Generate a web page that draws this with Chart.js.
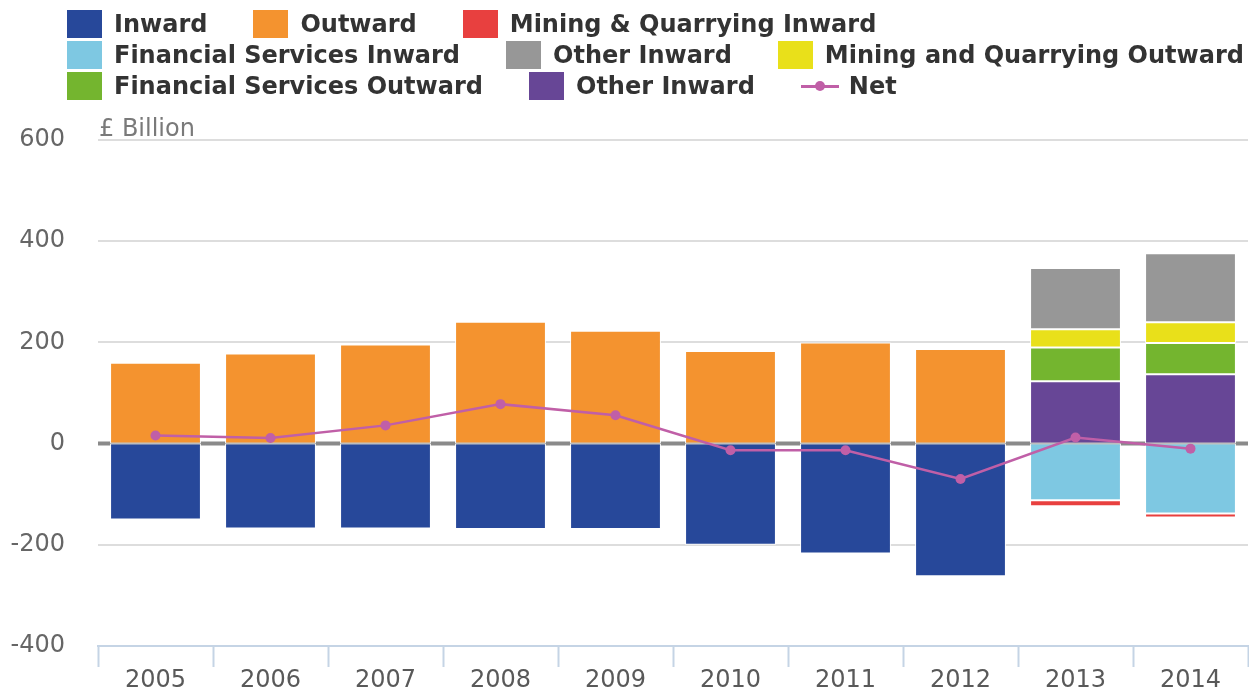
<!DOCTYPE html>
<html>
<head>
<meta charset="utf-8">
<script src="https://cdn.jsdelivr.net/npm/chart.js@4.4.1/dist/chart.umd.min.js"></script>
<style>
  html, body { margin: 0; padding: 0; background: #fff; overflow: hidden; }
  #wrap { position: relative; width: 1253px; height: 690px; }
  #legend { position: absolute; left: 67px; top: 8px; font: bold 24px "DejaVu Sans", sans-serif; color: #333; }
  .row { display: flex; height: 31.3px; align-items: center; }
  .item { display: flex; align-items: center; margin-right: 46px; white-space: nowrap; }
  .box { width: 35px; height: 28px; margin-right: 12px; }
  .line { width: 38px; height: 3px; position: relative; margin-right: 10px; }
  .line span { position: absolute; left: 14px; top: -3.5px; width: 10px; height: 10px; border-radius: 50%; }
</style>
</head>
<body>
<div id="wrap">
  <canvas id="fdiChart"></canvas>
  <div id="legend"></div>
</div>
<script>
const years = ['2005', '2006', '2007', '2008', '2009', '2010', '2011', '2012', '2013', '2014'];

// £ billion
const inward = [-150, -168, -168, -169, -169, -200, -217, -262, null, null];
const outward = [160, 178, 196, 241, 223, 183, 200, 187, null, null];
const finServInward = [null, null, null, null, null, null, null, null, -112, -138];
const miningInward = [null, null, null, null, null, null, null, null, -12, -8];
const otherPurple = [null, null, null, null, null, null, null, null, 123, 137];
const finServOutward = [null, null, null, null, null, null, null, null, 67, 62];
const miningOutward = [null, null, null, null, null, null, null, null, 36, 41];
const otherGrey = [null, null, null, null, null, null, null, null, 121, 136];
const net = [16, 11, 36, 78, 56, -13, -13, -70, 12, -10];

const yTicks = [-400, -200, 0, 200, 400, 600];

const colors = {
    inward: '#27489a',
    outward: '#f4932f',
    miningIn: '#e8403f',
    finIn: '#7ec8e2',
    otherGrey: '#979797',
    miningOut: '#e9e01a',
    finOut: '#74b52f',
    otherPurple: '#674696',
    net: '#c05fa7'
};

function barSet(label, data, color) {
    return {
        type: 'bar',
        label: label,
        data: data,
        backgroundColor: color,
        borderColor: '#ffffff',
        borderWidth: 1,
        borderSkipped: false,
        barPercentage: 0.79,
        categoryPercentage: 1,
        order: 1
    };
}

const datasets = [
    barSet('Inward', inward, colors.inward),
    barSet('Outward', outward, colors.outward),
    barSet('Financial Services Inward', finServInward, colors.finIn),
    barSet('Mining & Quarrying Inward', miningInward, colors.miningIn),
    barSet('Other Inward', otherPurple, colors.otherPurple),
    barSet('Financial Services Outward', finServOutward, colors.finOut),
    barSet('Mining and Quarrying Outward', miningOutward, colors.miningOut),
    barSet('Other Inward', otherGrey, colors.otherGrey),
    {
        type: 'line',
        label: 'Net',
        data: net,
        borderColor: colors.net,
        backgroundColor: colors.net,
        borderWidth: 2.5,
        pointRadius: 5,
        pointHoverRadius: 5,
        pointBorderWidth: 0,
        tension: 0,
        stack: 'net',
        order: 0
    }
];

// legend rows as in the original (dataset indexes)
const legendRows = [[0, 1, 3], [2, 7, 6], [5, 4, 8]];
const legendBox = document.getElementById('legend');
legendRows.forEach(row => {
    const r = document.createElement('div');
    r.className = 'row';
    row.forEach(i => {
        const ds = datasets[i];
        const item = document.createElement('div');
        item.className = 'item';
        if (ds.type === 'line') {
            item.innerHTML = `<div class="line" style="background:${ds.borderColor}"><span style="background:${ds.borderColor}"></span></div>${ds.label}`;
        } else {
            item.innerHTML = `<div class="box" style="background:${ds.backgroundColor}"></div>${ds.label}`;
        }
        r.appendChild(item);
    });
    legendBox.appendChild(r);
});

// thick grey zero line, drawn under the bars (chart.js would shift bars off a wide grid line)
const zeroLine = {
    id: 'zeroLine',
    beforeDatasetsDraw(chart) {
        const c = chart.ctx;
        const y = chart.scales.y.getPixelForValue(0);
        c.save();
        c.strokeStyle = '#8a8a8a';
        c.lineWidth = 4;
        c.beginPath();
        c.moveTo(chart.chartArea.left, y);
        c.lineTo(chart.chartArea.right, y);
        c.stroke();
        c.restore();
    }
};

const unitLabel = {
    id: 'unitLabel',
    afterDraw(chart) {
        const c = chart.ctx;
        c.save();
        c.font = '24px "DejaVu Sans"';
        c.fillStyle = '#7a7a7a';
        c.textBaseline = 'middle';
        c.fillText('£ Billion', chart.chartArea.left + 1, 130);
        c.restore();
    }
};

const ctx = document.getElementById('fdiChart').getContext('2d');
const fdiChart = new Chart(ctx, {
    data: {
        labels: years,
        datasets: datasets
    },
    options: {
        responsive: true,
        maintainAspectRatio: false,
        animation: false,
        layout: { padding: { top: 140, left: 0, right: 0, bottom: 0 } },
        plugins: {
            legend: { display: false },
            tooltip: { enabled: false }
        },
        scales: {
            x: {
                stacked: true,
                offset: true,
                grid: {
                    offset: true,
                    drawOnChartArea: false,
                    drawTicks: true,
                    tickLength: 21,
                    tickColor: '#c5d4e5',
                    tickWidth: 2
                },
                border: { color: '#c5d4e5', width: 2 },
                ticks: {
                    color: '#595959',
                    font: { family: 'DejaVu Sans', size: 24 },
                    padding: -1,
                    maxRotation: 0
                },
                afterFit: scale => { scale.height = 44; }
            },
            y: {
                stacked: true,
                min: -400,
                max: 600,
                afterBuildTicks: scale => { scale.ticks = yTicks.map(v => ({ value: v })); },
                grid: {
                    drawTicks: false,
                    color: c => c.tick && c.tick.value === 0 ? 'rgba(0,0,0,0)' : '#dddddd',
                    lineWidth: c => c.tick && c.tick.value === 0 ? 0 : 2
                },
                border: { display: false },
                ticks: {
                    color: '#666666',
                    font: { family: 'DejaVu Sans', size: 24 },
                    padding: 33
                },
                afterFit: scale => {
                    scale.width = 98;
                    scale.paddingTop = 0;
                    scale.paddingBottom = 0;
                }
            }
        }
    },
    plugins: [zeroLine, unitLabel]
});
</script>
</body>
</html>
